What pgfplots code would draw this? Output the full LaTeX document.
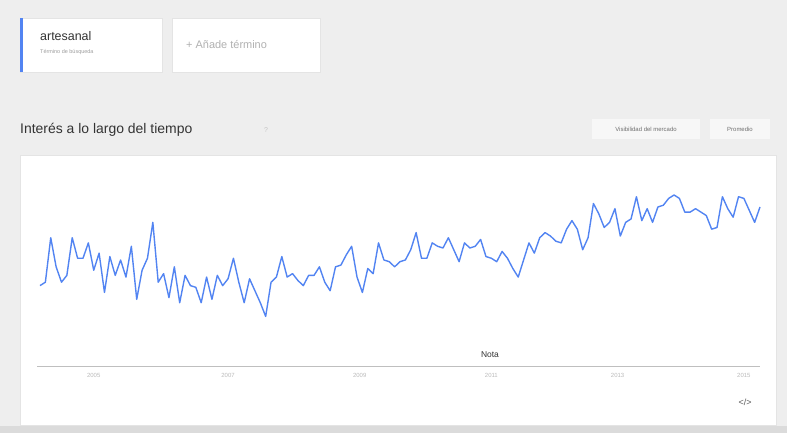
\documentclass[border=0pt]{standalone}
\usepackage{pgfplots}
\pgfplotsset{compat=1.18}
\usepackage{fontspec}
\setmainfont{Liberation Sans}
\definecolor{bg}{HTML}{EEEEEE}
\definecolor{gblue}{HTML}{5284F2}
\definecolor{dtext}{HTML}{333333}
\definecolor{ltext}{HTML}{9E9E9E}
\definecolor{cardline}{HTML}{E4E4E4}
\pgfplotstableread{
m v
0 47
1 49
2 75
3 58
4 49
5 53
6 75
7 63
8 63
9 72
10 56
11 66
12 43
13 64
14 53
15 62
16 52
17 70
18 39
19 56
20 63
21 84
22 49
23 54
24 40
25 58
26 37
27 53
28 47
29 46
30 37
31 52
32 39
33 53
34 47
35 51
36 63
37 49
38 37
39 51
40 44
41 37
42 29
43 49
44 52
45 64
46 52
47 54
48 50
49 47
50 53
51 53
52 58
53 49
54 44
55 58
56 59
57 65
58 70
59 52
60 43
61 57
62 54
63 72
64 62
65 61
66 58
67 61
68 62
69 68
70 78
71 63
72 63
73 72
74 70
75 69
76 75
77 68
78 61
79 72
80 69
81 70
82 74
83 64
84 63
85 61
86 67
87 63
88 57
89 52
90 62
91 72
92 66
93 75
94 78
95 76
96 73
97 72
98 80
99 85
100 80
101 68
102 75
103 95
104 89
105 81
106 84
107 92
108 76
109 84
110 86
111 99
112 85
113 92
114 84
115 93
116 94
117 98
118 100
119 98
120 90
121 90
122 92
123 90
124 88
125 80
126 81
127 99
128 92
129 87
130 99
131 98
132 91
133 84
134 93
}\trend
\begin{document}
\begin{tikzpicture}[x=1bp,y=1bp]
% page background and cards
\fill[bg] (0,0) rectangle (787,433);
\fill[white,draw=cardline] (20,361) rectangle (162,415);
\fill[gblue] (20,361) rectangle (23,415);
\fill[white,draw=cardline] (172,361) rectangle (320,415);
\node[anchor=west,text=dtext,font=\fontsize{12.5}{14}\selectfont,inner sep=0] at (40,397) {artesanal};
\node[anchor=west,text=ltext,font=\fontsize{5.5}{6}\selectfont,inner sep=0] at (40,381) {Término de búsqueda};
\node[anchor=west,text=ltext!80,font=\fontsize{11}{13}\selectfont,inner sep=0] at (186,388) {+ Añade término};
\node[anchor=west,text=dtext,font=\fontsize{14}{16}\selectfont,inner sep=0] at (20,303) {Interés a lo largo del tiempo};
\node[text=ltext!60,font=\fontsize{7}{8}\selectfont,inner sep=0] at (266,303) {?};
\fill[white!97!black] (592,294) rectangle (700,314);
\fill[white!97!black] (710,294) rectangle (770,314);
\node[text=dtext!70,font=\fontsize{6}{7}\selectfont] at (646,304) {Visibilidad del mercado};
\node[text=dtext!70,font=\fontsize{6}{7}\selectfont] at (740,304) {Promedio};
\fill[white,draw=cardline] (20,8) rectangle (776,278);
\fill[bg!92!black] (0,0) rectangle (787,7);
\node[text=dtext,font=\fontsize{8.5}{10}\selectfont] at (490,78) {Nota};
\node[text=dtext!80,font=\fontsize{9}{10}\selectfont] at (745,31) {</>};
\begin{axis}[
  at={(40bp,67bp)}, anchor=south west,
  scale only axis, width=720bp, height=171bp,
  xmin=0, xmax=134, ymin=0, ymax=100,
  clip=false,
  axis y line=none,
  axis x line*=bottom,
  x axis line style={-,draw=black!25,line width=0.8pt,shorten <=-3bp},
  xtick={10,35,59.5,84,107.5,131},
  xticklabels={2005,2007,2009,2011,2013,2015},
  major tick length=0pt,
  xticklabel style={font=\fontsize{6}{7}\selectfont,text=ltext!70,yshift=-4bp},
]
\addplot[gblue,line width=1.4pt,line join=round,mark=none] table[x=m,y=v] {\trend};
\end{axis}
\end{tikzpicture}
\end{document}
